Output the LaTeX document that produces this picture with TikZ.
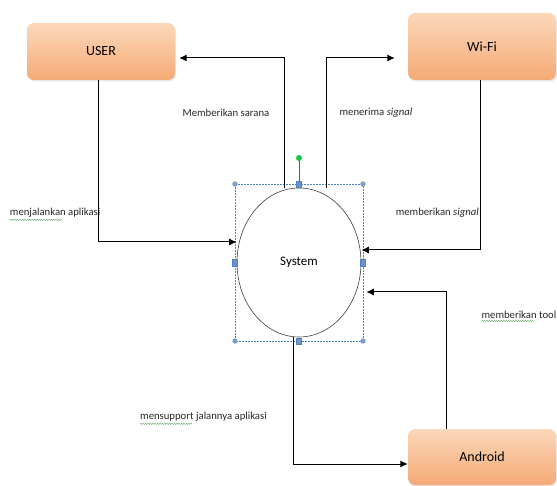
\documentclass[tikz,border=0pt]{standalone}
\usepackage{fontspec}
\setmainfont{Carlito}
\usetikzlibrary{shapes.geometric,shadows,arrows.meta,decorations.pathmorphing}
\definecolor{boxtop}{RGB}{251,216,186}
\definecolor{boxbot}{RGB}{245,170,118}
\definecolor{handle}{RGB}{79,129,189}
\definecolor{handlelight}{RGB}{120,155,210}
\definecolor{rotgreen}{RGB}{20,200,70}
\definecolor{squiggle}{RGB}{100,170,100}

\begin{document}
\begin{tikzpicture}[
    x=1pt, y=-1pt,
    font=\fontsize{10.7}{13}\selectfont,
    entity/.style={rectangle, rounded corners=7pt, minimum width=148pt, top color=boxtop, bottom color=boxbot,
        drop shadow={opacity=0.18, shadow xshift=1pt, shadow yshift=-1.5pt}, font=\fontsize{14}{16}\selectfont},
    process/.style={ellipse, draw=black!75, line width=0.6pt, minimum width=124pt, minimum height=149pt,
        font=\fontsize{13}{15}\selectfont},
    flow/.style={line width=1pt, -{Latex[length=7.5pt,width=7pt]}},
    label/.style={text=black!85, inner sep=0pt},
    selbox/.style={handle, densely dotted, line width=0.5pt},
    cornerdot/.style={fill=handlelight},
    midhandle/.style={fill=handle!85, draw=handle, line width=0.3pt},
    squig/.style={squiggle, line width=0.4pt, decorate, decoration={snake, amplitude=0.7pt, segment length=2.4pt}}
]
    \useasboundingbox (0,0) rectangle (557,486);

    % Entities
    \node[entity, minimum height=57pt] (user) at (101,51.5) {USER};
    \node[entity, minimum height=67pt] (wifi) at (482,46.5) {Wi-Fi};
    \node[entity, minimum height=56pt] (android) at (482,457) {Android};

    % Process
    \node[process] (sys) at (299,262.5) {System};

    % Selection handles
    \coordinate (selNW) at (235,184);
    \coordinate (selSE) at (363,341);
    \draw[selbox] (selNW) rectangle (selSE);
    \draw[rotgreen!70!black, line width=0.5pt] (299,160) -- (299,184);
    \fill[rotgreen] (299,158) circle (3);
    \foreach \p in {(selNW), (selNW -| selSE), (selSE), (selSE -| selNW)}
        \fill[cornerdot] \p circle (2.7);
    \foreach \x/\y in {299/184, 235/262.5, 363/262.5, 299/341}
        \filldraw[midhandle] (\x-2.6,\y-3.2) rectangle (\x+2.6,\y+3.2);

    % Memberikan sarana
    \coordinate (saranaBend) at (284,58);
    \draw[flow, shorten >=4pt] (saranaBend |- sys.north) -- (saranaBend) -- (saranaBend -| user.east);
    \node[label] (sarana) at (226,113) {Memberikan sarana};

    % menerima signal
    \coordinate (terimaBend) at (326,58);
    \draw[flow, shorten >=13pt] (terimaBend |- sys.north) -- (terimaBend) -- (terimaBend -| wifi.west);
    \node[label] (terima) at (376,113) {menerima \textit{signal}};

    % menjalankan aplikasi
    \node[label, anchor=east] (jalankan) at (100.5,213) {menjalankan aplikasi};
    \coordinate (jalankanBend) at (98,242);
    \draw[flow] (user.south -| jalankanBend) -- (jalankanBend) -- (jalankanBend -| sys.west);
    \draw[squig] (jalankan.south west) ++(0,2) -- ++(52,0);

    % memberikan signal
    \coordinate (signalBend) at (480,250);
    \draw[flow] (wifi.south -| signalBend) -- (signalBend) -- (signalBend -| sys.east);
    \node[label, anchor=east] (signal) at (479,213) {memberikan \textit{signal}};

    % memberikan tool
    \coordinate (toolBend) at (446,292);
    \draw[flow, shorten >=5pt] (android.north -| toolBend) -- (toolBend) -- (toolBend -| sys.east);
    \node[label, anchor=east] (tool) at (556.5,315) {memberikan tool};
    \draw[squig] (tool.south west) ++(0,2) -- ++(53,0);

    % mensupport jalannya aplikasi
    \coordinate (supportBend) at (293,464);
    \draw[flow] (sys.south -| supportBend) -- (supportBend) -- (supportBend -| android.west);
    \node[label, anchor=west] (support) at (140,417) {mensupport jalannya aplikasi};
    \draw[squig] (support.south west) ++(0,2) -- ++(52,0);
\end{tikzpicture}
\end{document}
